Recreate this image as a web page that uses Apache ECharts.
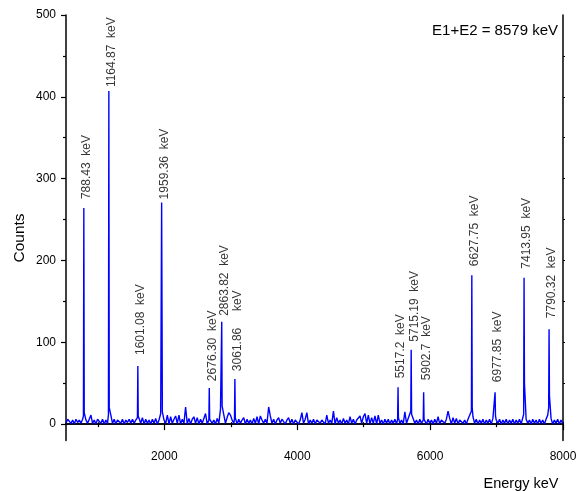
<!DOCTYPE html>
<html>
<head>
<meta charset="utf-8">
<script src="https://cdn.jsdelivr.net/npm/echarts@6/dist/echarts.min.js"></script>
<style>
html,body{margin:0;padding:0;background:#fff;}
#chart{width:586px;height:491px;}
</style>
</head>
<body>
<div id="chart"></div>
<script>
// ---- data ----
const baseStart = 520;      // keV of first background sample
const baseStep = 25;        // keV between background samples
const baseCounts = [
  1,6,7,1,5,0,6,2,5,1, 6,9,5,1,6,11,1,5,0,6,
  5,1,6,0,5,1,8,11,1,6, 0,5,7,1,6,0,5,2,6,1,
  6,1,5,7,12,1,8,0,6,1, 5,0,6,1,7,0,5,13,15,5,
  1,11,0,9,1,6,10,1,11,0, 6,1,21,0,7,0,6,9,1,8,
  0,6,1,7,13,0,6,6,1,5, 0,7,1,18,22,20,1,8,14,11,
  5,1,8,0,6,1,5,8,0,6, 1,5,0,7,1,9,0,10,5,1,
  6,1,21,10,1,6,0,5,8,1, 6,7,0,5,8,1,6,0,5,6,
  0,5,14,1,6,14,0,5,1,6, 0,5,6,1,5,6,0,11,1,5,
  1,16,0,8,1,5,0,7,1,5, 0,9,1,6,0,5,6,10,1,9,
  13,1,11,0,8,1,10,0,11,1, 5,0,6,1,6,0,5,1,6,0,
  8,1,5,0,15,1,7,5,20,11, 1,5,0,6,1,8,8,0,6,1,
  5,0,6,1,9,0,5,6,1,6, 16,7,0,8,1,7,0,5,6,1,
  5,0,6,7,24,9,1,6,0,5, 1,6,0,5,1,6,0,7,12,5,
  1,6,0,5,1,6,0,5,1,6, 0,5,1,6,0,8,18,6,1,5,
  0,6,1,5,0,6,1,5,0,6, 11,30,7,0,5,1,6,0,5,1
];
const peakEnergies = [788.43, 1164.87, 1601.08, 1959.36, 2676.30, 2863.82, 3061.86, 5517.2, 5715.19, 5902.7, 6627.75, 6977.85, 7413.95, 7790.32];
const peakCounts   = [264, 407, 71, 271, 44, 125, 55, 45, 91, 39, 182, 39, 179, 116];
const peakLeft     = [10, 12, 8, 12, 5, 18, 6, 6, 16, 5, 16, 8, 12, 20];
const peakRight    = [14, 20, 10, 135, 6, 22, 8, 8, 12, 6, 20, 10, 50, 35];
const peakLabels   = ['788.43  keV','1164.87  keV','1601.08  keV','1959.36  keV','2676.30  keV','2863.82  keV','3061.86     keV','5517.2  keV','5715.19  keV','5902.7  keV','6627.75  keV','6977.85  keV','7413.95  keV','7790.32  keV'];
const labelGaps    = [9, 4, 11, 3, 7, 6, 8, 9, 8, 12, 9, 10, 9, 11];
const xMajorTicks = [2000, 4000, 6000, 8000];
const xMinorTicks = [1000, 3000, 5000, 7000];
const xTopTicks   = [1000, 2000, 3000, 4000, 5000, 6000, 7000, 8000];
const yMajorTicks = [0, 100, 200, 300, 400, 500];
const yMinorTicks = [50, 150, 250, 350, 450];
const yRightTicks = [50, 100, 150, 200, 250, 300, 350, 400, 450];
const xMin = 520, xMax = 8000, yMin = -20, yMax = 500;

// ---- build spectrum ----
const spectrum = [];
baseCounts.forEach((c, i) => {
  const e = baseStart + baseStep * i;
  if (peakEnergies.every(p => Math.abs(p - e) > 8)) spectrum.push([e, c]);
});
peakEnergies.forEach((e, k) => {
  spectrum.push([e - 6, peakLeft[k]], [e, peakCounts[k]], [e + 6, peakRight[k]]);
});
spectrum.sort((a, b) => a[0] - b[0]);

const FONT = 'Arial, "Liberation Sans", sans-serif';
const black = '#000';
const axisLine = {show: true, lineStyle: {color: black, width: 1.5}};
const plain = v => String(v);

const chart = echarts.init(document.getElementById('chart'), null, {renderer: 'canvas'});
chart.setOption({
  animation: false,
  backgroundColor: '#fff',
  grid: {left: 66, right: 23, top: 15, bottom: 50.5, containLabel: false},
  xAxis: [
    {type: 'value', min: xMin, max: xMax, position: 'bottom',
     axisLine: axisLine,
     axisTick: {show: true, customValues: xMajorTicks, length: 6, lineStyle: {color: black, width: 1.2}},
     axisLabel: {show: true, customValues: xMajorTicks, formatter: plain, margin: 10, fontSize: 12, color: black, fontFamily: FONT},
     splitLine: {show: false}},
    {type: 'value', min: xMin, max: xMax, position: 'bottom',
     axisLine: {show: false},
     axisTick: {show: true, customValues: xMinorTicks, length: 3, lineStyle: {color: black, width: 1.2}},
     axisLabel: {show: false}, splitLine: {show: false}},
    {type: 'value', min: xMin, max: xMax, position: 'top',
     axisLine: axisLine,
     axisTick: {show: true, customValues: xTopTicks, length: 2, lineStyle: {color: black, width: 1}},
     axisLabel: {show: false}, splitLine: {show: false}}
  ],
  yAxis: [
    {type: 'value', min: yMin, max: yMax, position: 'left',
     axisLine: axisLine,
     axisTick: {show: true, customValues: yMajorTicks, length: 5, lineStyle: {color: black, width: 1.2}},
     axisLabel: {show: true, customValues: yMajorTicks, formatter: plain, margin: 10, fontSize: 12, color: black, fontFamily: FONT},
     splitLine: {show: false}},
    {type: 'value', min: yMin, max: yMax, position: 'left',
     axisLine: {show: false},
     axisTick: {show: true, customValues: yMinorTicks, length: 3, lineStyle: {color: black, width: 1.2}},
     axisLabel: {show: false}, splitLine: {show: false}},
    {type: 'value', min: yMin, max: yMax, position: 'right',
     axisLine: axisLine,
     axisTick: {show: true, customValues: yRightTicks, length: 2, lineStyle: {color: black, width: 1}},
     axisLabel: {show: false}, splitLine: {show: false}}
  ],
  series: [
    {type: 'line', xAxisIndex: 0, yAxisIndex: 0, data: spectrum, showSymbol: false, symbol: 'none',
     sampling: null, silent: true,
     lineStyle: {color: '#0000ff', width: 1.4}},
    {type: 'scatter', xAxisIndex: 0, yAxisIndex: 0, symbolSize: 0, silent: true,
     data: peakEnergies.map((e, k) => ({
       value: [e, peakCounts[k]],
       label: {distance: labelGaps[k]}
     })),
     label: {show: true, position: 'top', rotate: 90, align: 'left', verticalAlign: 'middle',
       offset: [0, 3],
       fontSize: 12, color: black, fontFamily: FONT,
       formatter: p => peakLabels[p.dataIndex]}}
  ],
  graphic: [
    {type: 'text', x: 558, y: 31, style: {text: 'E1+E2 = 8579 keV', fill: black, font: '15px ' + FONT, textAlign: 'right', textVerticalAlign: 'middle'}},
    {type: 'text', x: 521, y: 484, style: {text: 'Energy keV', fill: black, font: '14.5px ' + FONT, textAlign: 'center', textVerticalAlign: 'middle'}},
    {type: 'text', x: 20, y: 238, rotation: Math.PI / 2, style: {text: 'Counts', fill: black, font: '15.5px ' + FONT, textAlign: 'center', textVerticalAlign: 'middle'}}
  ]
});
</script>
</body>
</html>
